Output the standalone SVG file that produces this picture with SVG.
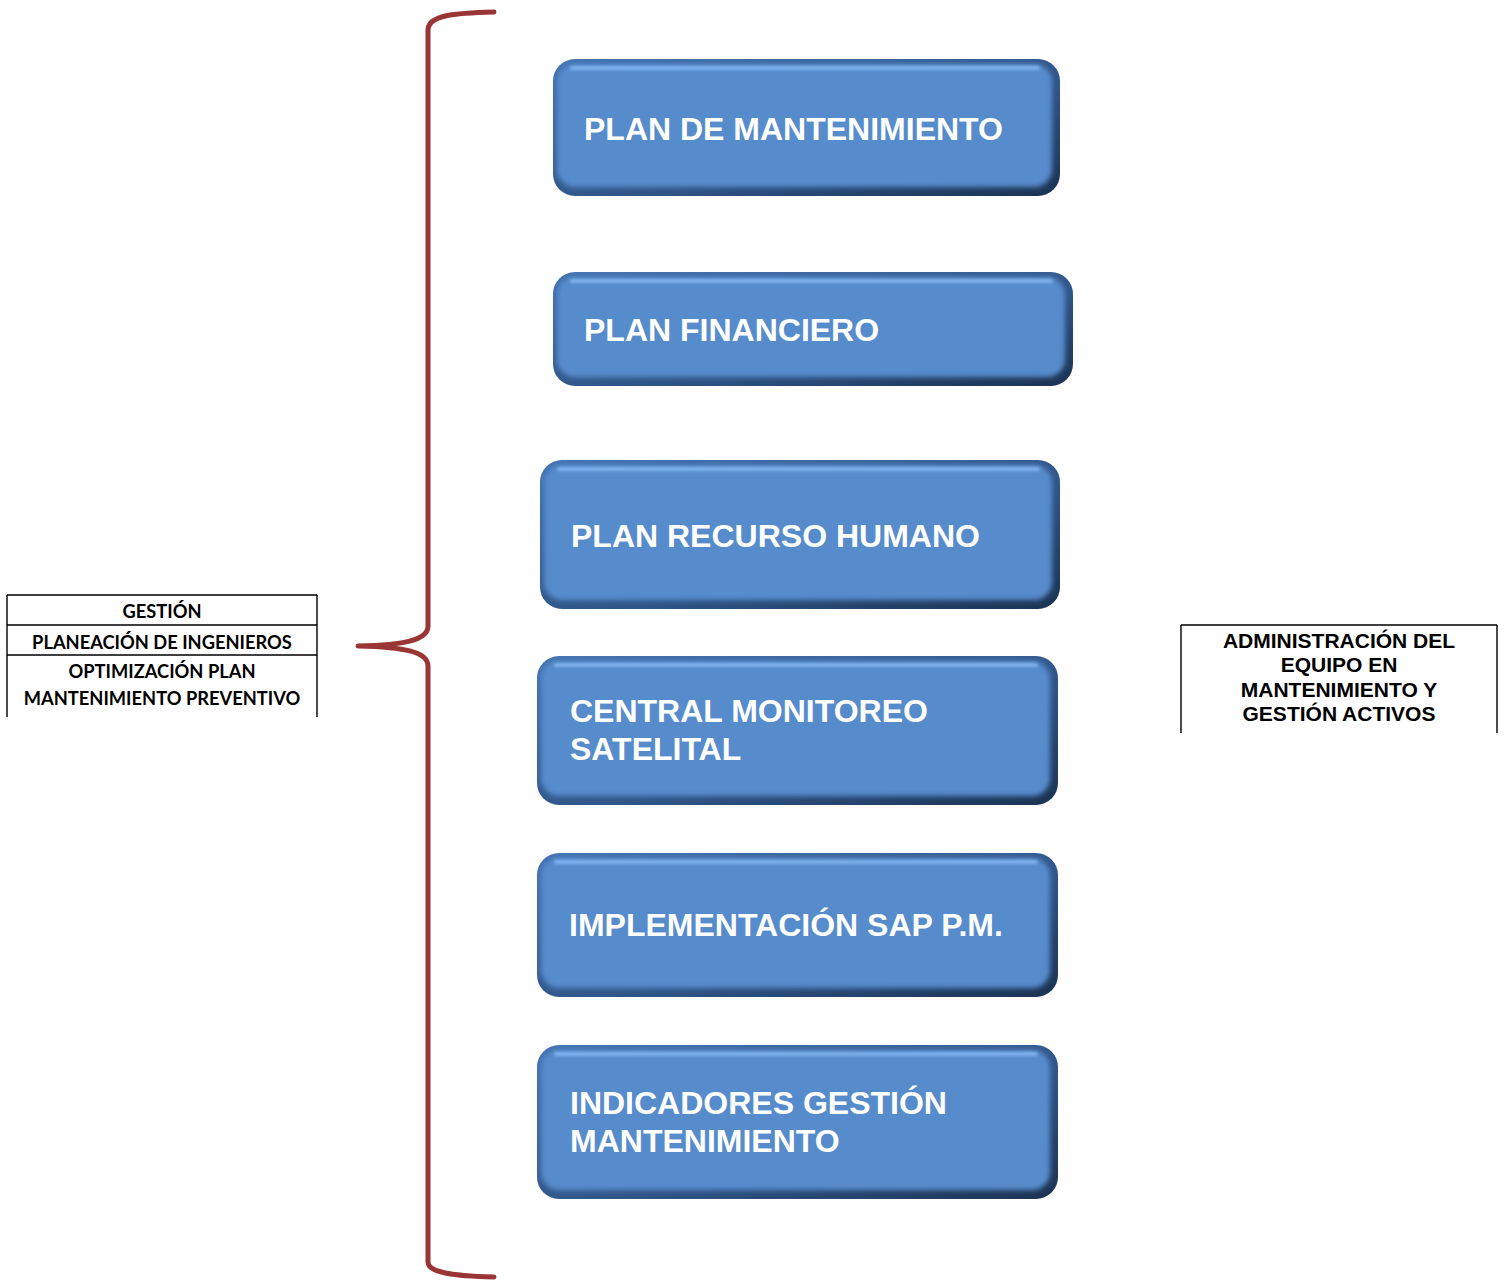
<svg xmlns="http://www.w3.org/2000/svg" width="1507" height="1280" viewBox="0 0 1507 1280">
  <style>
    .lbl { font-family: "Liberation Sans", Arial, sans-serif; font-weight: bold; font-size: 32px; fill: #ffffff; }
    .tbl { font-family: Lato, "Open Sans", sans-serif; font-weight: bold; font-size: 18.3px; fill: #000000; text-anchor: middle; }
    .side { font-family: "Liberation Sans", Arial, sans-serif; font-weight: bold; font-size: 21px; fill: #000000; text-anchor: middle; }
    .rule { stroke: #000000; stroke-width: 1.4; fill: none; }
    .brace { stroke: #9a3535; stroke-width: 5; fill: none; stroke-linecap: round; stroke-linejoin: round; }
    .base { fill: url(#edgeGrad); }
    .face { fill: #578bcc; filter: url(#soft); }
    .hl { fill: #80b3ee; filter: url(#softer); }
  </style>
  <defs>
    <linearGradient id="edgeGrad" x1="0" y1="0" x2="1" y2="1">
      <stop offset="0" stop-color="#4474b2"/>
      <stop offset="0.6" stop-color="#2f5486"/>
      <stop offset="1" stop-color="#1b3352"/>
    </linearGradient>
    <filter id="soft" x="-5%" y="-10%" width="110%" height="120%">
      <feGaussianBlur stdDeviation="2.6"/>
    </filter>
    <filter id="softer" x="-5%" y="-100%" width="110%" height="300%">
      <feGaussianBlur stdDeviation="1.4"/>
    </filter>
  </defs>

  <rect width="1507" height="1280" fill="#ffffff"/>

  <!-- curly brace grouping the plan boxes -->
  <g id="connectors">
    <path class="brace" d="M494,12 C455,13 428,15 428,30 L428,626 C428,640 405,645 358,646 C405,647 428,652 428,666 L428,1262 C428,1273 455,1276 494,1277"/>
  </g>

  <!-- left label table -->
  <g id="gestion-table">
    <path class="rule" d="M7,595 H317 M7,625 H317 M7,655 H317 M7,595 V717 M317,595 V717"/>
    <text class="tbl" x="162" y="618">GESTIÓN</text>
    <text class="tbl" x="162" y="649">PLANEACIÓN DE INGENIEROS</text>
    <text class="tbl" x="162" y="678">OPTIMIZACIÓN PLAN</text>
    <text class="tbl" x="162" y="705">MANTENIMIENTO PREVENTIVO</text>
  </g>

  <!-- right label box -->
  <g id="admin-label">
    <path class="rule" d="M1181,625 H1497 M1181,625 V733 M1497,625 V733"/>
    <text class="side" x="1339" y="648">ADMINISTRACIÓN DEL</text>
    <text class="side" x="1339" y="672">EQUIPO EN</text>
    <text class="side" x="1339" y="697">MANTENIMIENTO Y</text>
    <text class="side" x="1339" y="721">GESTIÓN ACTIVOS</text>
  </g>

  <!-- plan boxes -->
  <g id="plan-mantenimiento">
    <rect class="base" x="553" y="59" width="507" height="137" rx="22"/>
    <rect class="face" x="557" y="64" width="495" height="123" rx="18"/>
    <rect class="hl" x="570" y="66" width="470" height="4" rx="2"/>
    <text class="lbl" x="584" y="140">PLAN DE MANTENIMIENTO</text>
  </g>

  <g id="plan-financiero">
    <rect class="base" x="553" y="272" width="520" height="114" rx="22"/>
    <rect class="face" x="557" y="277" width="508" height="100" rx="18"/>
    <rect class="hl" x="570" y="279" width="483" height="4" rx="2"/>
    <text class="lbl" x="584" y="341">PLAN FINANCIERO</text>
  </g>

  <g id="plan-recurso-humano">
    <rect class="base" x="540" y="460" width="520" height="149" rx="22"/>
    <rect class="face" x="544" y="465" width="508" height="135" rx="18"/>
    <rect class="hl" x="557" y="467" width="483" height="4" rx="2"/>
    <text class="lbl" x="571" y="547">PLAN RECURSO HUMANO</text>
  </g>

  <g id="central-monitoreo">
    <rect class="base" x="537" y="656" width="521" height="149" rx="22"/>
    <rect class="face" x="541" y="661" width="509" height="135" rx="18"/>
    <rect class="hl" x="554" y="663" width="484" height="4" rx="2"/>
    <text class="lbl" x="570" y="722">CENTRAL MONITOREO</text>
    <text class="lbl" x="570" y="760">SATELITAL</text>
  </g>

  <g id="implementacion-sap">
    <rect class="base" x="537" y="853" width="521" height="144" rx="22"/>
    <rect class="face" x="541" y="858" width="509" height="130" rx="18"/>
    <rect class="hl" x="554" y="860" width="484" height="4" rx="2"/>
    <text class="lbl" x="569" y="936">IMPLEMENTACIÓN SAP P.M.</text>
  </g>

  <g id="indicadores-gestion">
    <rect class="base" x="537" y="1045" width="521" height="154" rx="22"/>
    <rect class="face" x="541" y="1050" width="509" height="140" rx="18"/>
    <rect class="hl" x="554" y="1052" width="484" height="4" rx="2"/>
    <text class="lbl" x="570" y="1114">INDICADORES GESTIÓN</text>
    <text class="lbl" x="570" y="1152">MANTENIMIENTO</text>
  </g>
</svg>
